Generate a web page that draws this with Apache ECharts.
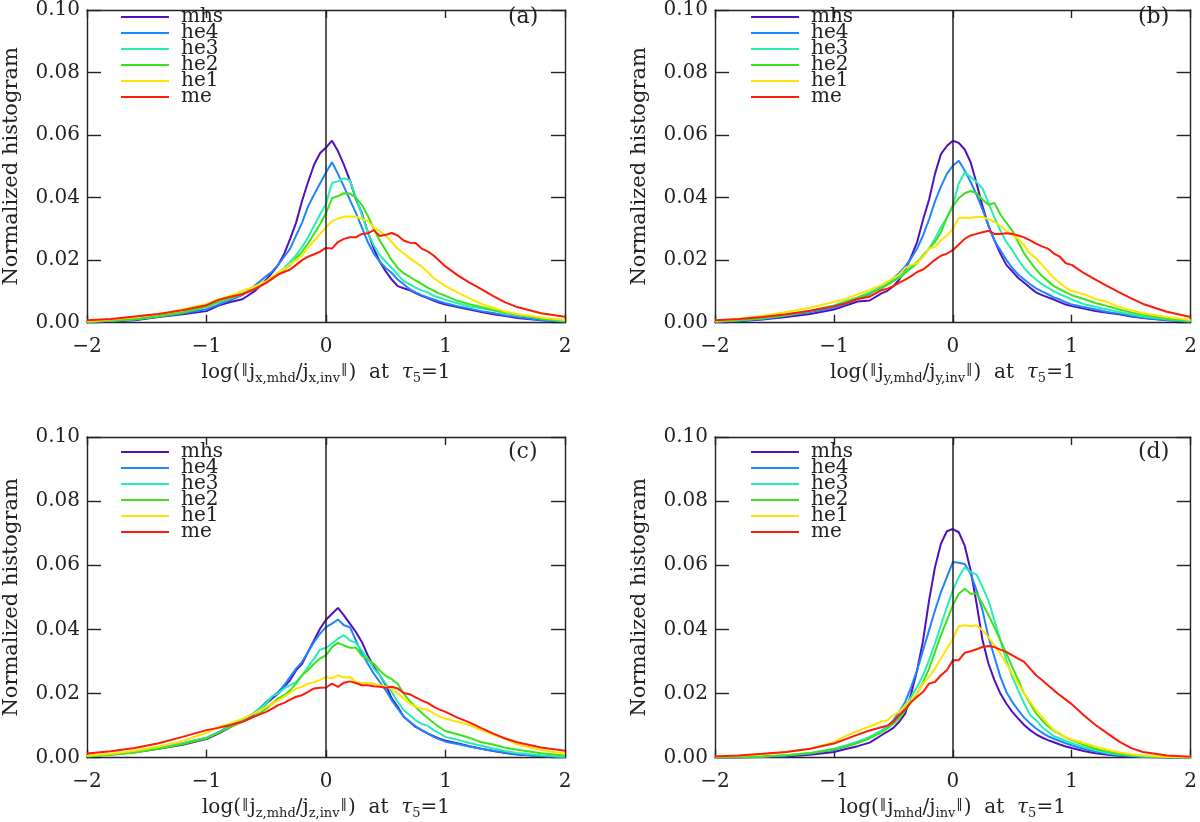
<!DOCTYPE html>
<html>
<head>
<meta charset="utf-8">
<script src="https://cdn.jsdelivr.net/npm/echarts@6/dist/echarts.min.js"></script>
<style>
html,body{margin:0;padding:0;background:#fff;}
#chart{width:1200px;height:822px;}
</style>
</head>
<body>
<div id="chart"></div>
<script>
// histogram bin centres shared by every curve
var xs = [-2,-1.8,-1.6,-1.4,-1.2,-1,-0.9,-0.8,-0.7,
  -0.6,-0.55,-0.5,-0.45,-0.4,-0.35,-0.3,-0.25,-0.2,-0.15,-0.1,-0.05,
  0,
  0.05,0.1,0.15,0.2,0.25,0.3,0.35,0.4,0.45,0.5,0.55,0.6,0.65,0.7,0.75,0.8,0.85,0.9,0.95,1,
  1.1,1.2,1.3,1.4,1.5,1.6,1.8,2];

var names = ['mhs','he4','he3','he2','he1','me'];
var colors = ['#5010c0','#1f84ff','#24eeb4','#3ee21c','#ffe400','#ff1a0a'];
var tags = ['(a)','(b)','(c)','(d)'];

// panel (a): j_x
var aMhs = [0.0002,0.0004,0.0008,0.0018,0.0027,0.0037,0.0055,0.0066,0.0075,
  0.0100,0.0118,0.0138,0.0160,0.0185,0.0220,0.0268,0.0320,0.0390,0.0450,0.0505,0.0542,
  0.0560,
  0.0582,0.0549,0.0505,0.0455,0.0395,0.0350,0.0290,0.0237,0.0195,0.0164,0.0138,0.0117,0.0110,0.0104,0.0095,0.0086,0.0079,0.0071,0.0064,0.0058,
  0.0050,0.0042,0.0034,0.0027,0.0021,0.0015,0.0008,0.0003];
var aHe4 = [0.0003,0.0006,0.0010,0.0020,0.0030,0.0043,0.0058,0.0072,0.0088,
  0.0117,0.0133,0.0149,0.0164,0.0185,0.0211,0.0237,0.0279,0.0320,0.0372,0.0409,0.0445,
  0.0480,
  0.0513,0.0476,0.0435,0.0393,0.0351,0.0305,0.0258,0.0221,0.0195,0.0175,0.0159,0.0138,0.0123,0.0107,0.0097,0.0088,0.0081,0.0074,0.0068,0.0062,
  0.0053,0.0045,0.0037,0.0031,0.0024,0.0018,0.0009,0.0004];
var aHe3 = [0.0003,0.0006,0.0011,0.0021,0.0033,0.0053,0.0068,0.0081,0.0094,
  0.0110,0.0120,0.0130,0.0143,0.0159,0.0175,0.0195,0.0216,0.0242,0.0273,0.0310,0.0346,
  0.0380,
  0.0447,0.0452,0.0462,0.0455,0.0400,0.0346,0.0289,0.0247,0.0216,0.0195,0.0175,0.0154,0.0133,0.0123,0.0112,0.0104,0.0097,0.0086,0.0080,0.0073,
  0.0062,0.0052,0.0046,0.0040,0.0032,0.0025,0.0013,0.0005];
var aHe2 = [0.0003,0.0006,0.0011,0.0020,0.0032,0.0051,0.0066,0.0078,0.0091,
  0.0107,0.0117,0.0128,0.0140,0.0154,0.0170,0.0185,0.0206,0.0227,0.0253,0.0284,0.0315,
  0.0350,
  0.0398,0.0405,0.0414,0.0413,0.0400,0.0377,0.0342,0.0300,0.0262,0.0232,0.0200,0.0175,0.0158,0.0147,0.0135,0.0124,0.0112,0.0103,0.0093,0.0086,
  0.0070,0.0059,0.0050,0.0040,0.0032,0.0025,0.0013,0.0006];
var aHe1 = [0.0005,0.0010,0.0018,0.0028,0.0042,0.0060,0.0074,0.0086,0.0102,
  0.0115,0.0124,0.0133,0.0147,0.0160,0.0172,0.0187,0.0200,0.0215,0.0240,0.0262,0.0284,
  0.0305,
  0.0325,0.0333,0.0339,0.0340,0.0339,0.0332,0.0325,0.0305,0.0292,0.0279,0.0258,0.0237,0.0222,0.0206,0.0193,0.0180,0.0162,0.0143,0.0130,0.0117,
  0.0097,0.0078,0.0060,0.0048,0.0036,0.0028,0.0017,0.0009];
var aMe = [0.0008,0.0012,0.0020,0.0028,0.0040,0.0056,0.0073,0.0083,0.0091,
  0.0107,0.0117,0.0128,0.0141,0.0154,0.0162,0.0170,0.0185,0.0200,0.0211,0.0219,0.0227,
  0.0239,
  0.0237,0.0258,0.0268,0.0273,0.0273,0.0284,0.0286,0.0296,0.0277,0.0281,0.0287,0.0279,0.0263,0.0256,0.0255,0.0237,0.0228,0.0215,0.0197,0.0180,
  0.0152,0.0128,0.0107,0.0085,0.0065,0.0050,0.0030,0.0019];

// panel (b): j_y
var bMhs = [0.0002,0.0005,0.0010,0.0018,0.0028,0.0042,0.0055,0.0068,0.0071,
  0.0094,0.0102,0.0117,0.0138,0.0170,0.0211,0.0258,0.0330,0.0393,0.0476,0.0539,0.0565,
  0.0582,
  0.0575,0.0554,0.0513,0.0445,0.0372,0.0310,0.0263,0.0221,0.0185,0.0164,0.0143,0.0128,0.0112,0.0097,0.0088,0.0081,0.0074,0.0066,0.0058,0.0053,
  0.0045,0.0037,0.0032,0.0027,0.0020,0.0015,0.0008,0.0003];
var bHe4 = [0.0003,0.0006,0.0012,0.0022,0.0033,0.0048,0.0060,0.0076,0.0091,
  0.0117,0.0128,0.0143,0.0159,0.0180,0.0206,0.0237,0.0279,0.0330,0.0388,0.0435,0.0476,
  0.0502,
  0.0518,0.0487,0.0450,0.0409,0.0362,0.0310,0.0263,0.0232,0.0201,0.0175,0.0154,0.0138,0.0123,0.0110,0.0100,0.0091,0.0081,0.0074,0.0066,0.0058,
  0.0050,0.0042,0.0034,0.0029,0.0022,0.0016,0.0009,0.0004];
var bHe3 = [0.0004,0.0008,0.0014,0.0025,0.0038,0.0055,0.0069,0.0081,0.0097,
  0.0114,0.0125,0.0136,0.0149,0.0164,0.0180,0.0195,0.0211,0.0237,0.0268,0.0305,0.0336,
  0.0377,
  0.0445,0.0481,0.0466,0.0450,0.0429,0.0383,0.0336,0.0294,0.0258,0.0232,0.0201,0.0175,0.0154,0.0138,0.0123,0.0112,0.0100,0.0091,0.0083,0.0074,
  0.0060,0.0050,0.0042,0.0034,0.0027,0.0020,0.0011,0.0005];
var bHe2 = [0.0004,0.0008,0.0014,0.0024,0.0037,0.0053,0.0066,0.0079,0.0094,
  0.0110,0.0121,0.0133,0.0143,0.0159,0.0175,0.0190,0.0216,0.0237,0.0258,0.0289,0.0336,
  0.0372,
  0.0398,0.0414,0.0421,0.0414,0.0393,0.0377,0.0383,0.0346,0.0320,0.0294,0.0258,0.0221,0.0195,0.0170,0.0149,0.0133,0.0117,0.0107,0.0097,0.0088,
  0.0076,0.0063,0.0053,0.0042,0.0033,0.0025,0.0013,0.0006];
var bHe1 = [0.0006,0.0012,0.0022,0.0034,0.0048,0.0066,0.0076,0.0091,0.0105,
  0.0120,0.0131,0.0143,0.0154,0.0175,0.0185,0.0190,0.0211,0.0237,0.0242,0.0263,0.0279,
  0.0300,
  0.0336,0.0336,0.0336,0.0338,0.0338,0.0331,0.0322,0.0310,0.0294,0.0281,0.0268,0.0247,0.0221,0.0206,0.0185,0.0164,0.0143,0.0128,0.0112,0.0102,
  0.0091,0.0076,0.0066,0.0050,0.0040,0.0030,0.0018,0.0009];
var bMe = [0.0008,0.0012,0.0018,0.0027,0.0038,0.0053,0.0062,0.0076,0.0083,
  0.0104,0.0109,0.0117,0.0128,0.0138,0.0149,0.0162,0.0170,0.0185,0.0201,0.0214,0.0221,
  0.0232,
  0.0250,0.0268,0.0279,0.0284,0.0289,0.0294,0.0284,0.0284,0.0286,0.0284,0.0279,0.0273,0.0263,0.0253,0.0244,0.0237,0.0221,0.0211,0.0190,0.0185,
  0.0159,0.0138,0.0117,0.0097,0.0078,0.0060,0.0035,0.0018];

// panel (c): j_z
var cMhs = [0.0005,0.0010,0.0017,0.0028,0.0040,0.0058,0.0075,0.0095,0.0115,
  0.0136,0.0151,0.0169,0.0185,0.0200,0.0221,0.0242,0.0273,0.0293,0.0330,0.0366,0.0402,
  0.0430,
  0.0449,0.0467,0.0444,0.0418,0.0392,0.0361,0.0319,0.0283,0.0257,0.0226,0.0185,0.0159,0.0128,0.0112,0.0096,0.0086,0.0076,0.0067,0.0059,0.0053,
  0.0045,0.0036,0.0028,0.0021,0.0015,0.0010,0.0005,0.0002];
var cHe4 = [0.0005,0.0010,0.0018,0.0030,0.0045,0.0062,0.0080,0.0100,0.0118,
  0.0140,0.0156,0.0174,0.0190,0.0205,0.0226,0.0252,0.0278,0.0299,0.0330,0.0361,0.0387,
  0.0407,
  0.0418,0.0431,0.0413,0.0407,0.0366,0.0325,0.0293,0.0262,0.0236,0.0210,0.0179,0.0153,0.0128,0.0112,0.0098,0.0086,0.0076,0.0065,0.0057,0.0050,
  0.0043,0.0035,0.0028,0.0022,0.0016,0.0011,0.0005,0.0002];
var cHe3 = [0.0005,0.0010,0.0018,0.0030,0.0045,0.0062,0.0078,0.0098,0.0118,
  0.0140,0.0153,0.0169,0.0192,0.0200,0.0216,0.0226,0.0236,0.0257,0.0283,0.0309,0.0337,
  0.0343,
  0.0356,0.0371,0.0382,0.0366,0.0358,0.0335,0.0309,0.0278,0.0257,0.0231,0.0205,0.0174,0.0148,0.0133,0.0117,0.0105,0.0100,0.0086,0.0076,0.0065,
  0.0056,0.0046,0.0037,0.0029,0.0021,0.0015,0.0008,0.0003];
var cHe2 = [0.0004,0.0009,0.0016,0.0028,0.0043,0.0060,0.0078,0.0096,0.0112,
  0.0128,0.0140,0.0153,0.0169,0.0185,0.0195,0.0210,0.0231,0.0257,0.0273,0.0293,0.0309,
  0.0319,
  0.0345,0.0358,0.0350,0.0343,0.0343,0.0318,0.0305,0.0293,0.0272,0.0255,0.0245,0.0230,0.0200,0.0177,0.0158,0.0140,0.0124,0.0109,0.0095,0.0083,
  0.0073,0.0062,0.0048,0.0041,0.0031,0.0025,0.0014,0.0007];
var cHe1 = [0.0006,0.0012,0.0022,0.0035,0.0052,0.0078,0.0096,0.0107,0.0122,
  0.0138,0.0148,0.0159,0.0169,0.0179,0.0190,0.0202,0.0216,0.0221,0.0231,0.0236,0.0242,
  0.0252,
  0.0247,0.0257,0.0250,0.0252,0.0236,0.0233,0.0233,0.0231,0.0226,0.0221,0.0216,0.0200,0.0185,0.0169,0.0159,0.0153,0.0150,0.0138,0.0128,0.0122,
  0.0112,0.0102,0.0086,0.0072,0.0058,0.0042,0.0024,0.0012];
var cMe = [0.0013,0.0020,0.0030,0.0045,0.0065,0.0086,0.0093,0.0102,0.0112,
  0.0128,0.0136,0.0143,0.0153,0.0164,0.0171,0.0181,0.0190,0.0195,0.0205,0.0216,0.0218,
  0.0219,
  0.0231,0.0221,0.0234,0.0238,0.0233,0.0226,0.0226,0.0223,0.0221,0.0218,0.0221,0.0216,0.0202,0.0198,0.0188,0.0179,0.0171,0.0159,0.0150,0.0143,
  0.0125,0.0110,0.0092,0.0075,0.0060,0.0048,0.0032,0.0022];

// panel (d): |j|
var dMhs = [0.0000,0.0001,0.0002,0.0004,0.0009,0.0018,0.0027,0.0036,0.0047,
  0.0070,0.0081,0.0093,0.0112,0.0138,0.0200,0.0273,0.0366,0.0490,0.0594,0.0667,0.0706,
  0.0713,
  0.0703,0.0661,0.0584,0.0480,0.0366,0.0293,0.0242,0.0200,0.0169,0.0143,0.0122,0.0102,0.0086,0.0073,0.0063,0.0055,0.0048,0.0041,0.0035,0.0030,
  0.0021,0.0014,0.0009,0.0006,0.0004,0.0002,0.0001,0.0000];
var dHe4 = [0.0001,0.0002,0.0004,0.0007,0.0013,0.0025,0.0035,0.0047,0.0063,
  0.0084,0.0098,0.0117,0.0143,0.0174,0.0221,0.0273,0.0335,0.0397,0.0459,0.0516,0.0563,
  0.0610,
  0.0608,0.0604,0.0573,0.0522,0.0459,0.0376,0.0314,0.0252,0.0205,0.0174,0.0148,0.0125,0.0107,0.0091,0.0078,0.0067,0.0059,0.0052,0.0045,0.0039,
  0.0028,0.0019,0.0012,0.0008,0.0005,0.0003,0.0001,0.0000];
var dHe3 = [0.0001,0.0002,0.0004,0.0008,0.0015,0.0028,0.0038,0.0050,0.0065,
  0.0084,0.0096,0.0112,0.0133,0.0159,0.0190,0.0221,0.0257,0.0304,0.0356,0.0413,0.0470,
  0.0522,
  0.0563,0.0594,0.0579,0.0571,0.0532,0.0490,0.0428,0.0366,0.0304,0.0252,0.0210,0.0169,0.0133,0.0117,0.0096,0.0081,0.0067,0.0060,0.0052,0.0045,
  0.0033,0.0023,0.0015,0.0010,0.0006,0.0004,0.0002,0.0001];
var dHe2 = [0.0001,0.0002,0.0004,0.0008,0.0014,0.0026,0.0035,0.0046,0.0060,
  0.0079,0.0091,0.0105,0.0122,0.0148,0.0174,0.0200,0.0236,0.0278,0.0330,0.0382,0.0428,
  0.0475,
  0.0511,0.0527,0.0511,0.0511,0.0480,0.0444,0.0407,0.0366,0.0325,0.0283,0.0242,0.0200,0.0169,0.0138,0.0117,0.0098,0.0084,0.0074,0.0063,0.0055,
  0.0040,0.0028,0.0019,0.0012,0.0008,0.0005,0.0002,0.0001];
var dHe1 = [0.0003,0.0006,0.0010,0.0018,0.0028,0.0048,0.0068,0.0083,0.0098,
  0.0112,0.0117,0.0133,0.0143,0.0164,0.0179,0.0202,0.0231,0.0252,0.0278,0.0309,0.0340,
  0.0371,
  0.0410,0.0413,0.0410,0.0413,0.0397,0.0376,0.0350,0.0325,0.0293,0.0262,0.0231,0.0200,0.0174,0.0148,0.0128,0.0105,0.0086,0.0076,0.0063,0.0057,
  0.0046,0.0035,0.0025,0.0017,0.0011,0.0007,0.0003,0.0001];
var dMe = [0.0004,0.0007,0.0012,0.0018,0.0028,0.0044,0.0058,0.0072,0.0085,
  0.0095,0.0100,0.0112,0.0133,0.0150,0.0174,0.0190,0.0205,0.0231,0.0236,0.0257,0.0273,
  0.0304,
  0.0304,0.0327,0.0332,0.0338,0.0345,0.0348,0.0345,0.0337,0.0330,0.0319,0.0309,0.0299,0.0278,0.0257,0.0242,0.0226,0.0210,0.0195,0.0181,0.0167,
  0.0133,0.0102,0.0076,0.0050,0.0030,0.0018,0.0007,0.0003];

var panelData = [
  [aMhs,aHe4,aHe3,aHe2,aHe1,aMe],
  [bMhs,bHe4,bHe3,bHe2,bHe1,bMe],
  [cMhs,cHe4,cHe3,cHe2,cHe1,cMe],
  [dMhs,dHe4,dHe3,dHe2,dHe1,dMe]
];
// subscripts of the x titles
var subs = [['x,mhd','x,inv'],['y,mhd','y,inv'],['z,mhd','z,inv'],['mhd','inv']];

var FONT = 'DejaVu Serif';
var INK = '#222';
// plot boxes: left, top
var boxes = [[85,2],[715,2],[85,437],[715,437]];
var BOX_W = 480, BOX_H = 320.7;

var chart = echarts.init(document.getElementById('chart'));

function pairs(arr){
  var out=[];
  for(var i=0;i<xs.length;i++){
    out.push([xs[i],arr[i]]);
  }
  return out;
}

function xName(k){
  return 'log({bar|\u2016}j{sub|'+subs[k][0]+'}/j{sub|'+subs[k][1]+'}{bar|\u2016})  at  {tau|\u03c4}{sub|5}=1';
}

var axisLine={show:true,onZero:false,lineStyle:{color:INK,width:1.4}};
var tickStyle={color:INK,width:1.4};

var option={
  animation:false,
  backgroundColor:'#ffffff',
  title:[],
  legend:[],
  grid:[],
  xAxis:[],
  yAxis:[],
  series:[]
};

for(var k=0;k<4;k++){
  var bx=boxes[k][0], by=boxes[k][1];
  option.grid.push({left:bx,top:by,width:BOX_W,height:BOX_H});

  // bottom x axis with labels and title
  option.xAxis.push({
    type:'value',gridIndex:k,min:-2,max:2,interval:1,position:'bottom',
    axisLine:axisLine,
    axisTick:{show:true,inside:true,length:8,lineStyle:tickStyle},
    splitLine:{show:false},
    axisLabel:{margin:14,color:INK,fontFamily:FONT,fontSize:20,
      formatter:function(v){ return v<0 ? '\u2212'+Math.abs(v) : String(v); }},
    name:xName(k),nameLocation:'middle',nameGap:37,
    nameTextStyle:{color:INK,fontFamily:FONT,fontSize:20,lineHeight:26,
      rich:{
        sub:{fontFamily:FONT,fontSize:13,lineHeight:13,color:INK,padding:[12,0,0,0]},
        bar:{fontFamily:FONT,fontSize:13,lineHeight:13,color:INK,padding:[0,1,6,1]},
        tau:{fontFamily:FONT,fontSize:20,fontStyle:'italic',lineHeight:26,color:INK}
      }}
  });
  // top x axis, ticks only
  option.xAxis.push({
    type:'value',gridIndex:k,min:-2,max:2,interval:1,position:'top',
    axisLine:axisLine,
    axisTick:{show:true,inside:true,length:8,lineStyle:tickStyle},
    splitLine:{show:false},axisLabel:{show:false}
  });
  // left y axis
  option.yAxis.push({
    type:'value',gridIndex:k,min:0,max:0.1,interval:0.02,position:'left',
    axisLine:axisLine,
    axisTick:{show:true,inside:true,length:14,lineStyle:tickStyle},
    splitLine:{show:false},
    axisLabel:{margin:7,color:INK,fontFamily:FONT,fontSize:20,
      formatter:function(v){ return v.toFixed(2); }},
    name:'Normalized histogram',nameLocation:'middle',nameGap:65,nameRotate:90,
    nameTextStyle:{color:INK,fontFamily:FONT,fontSize:21}
  });
  // right y axis, ticks only
  option.yAxis.push({
    type:'value',gridIndex:k,min:0,max:0.1,interval:0.02,position:'right',
    axisLine:axisLine,
    axisTick:{show:true,inside:true,length:14,lineStyle:tickStyle},
    splitLine:{show:false},axisLabel:{show:false}
  });

  for(var i=0;i<names.length;i++){
    var s={
      type:'line',name:names[i],
      xAxisIndex:2*k,yAxisIndex:2*k,
      data:pairs(panelData[k][i]),
      showSymbol:false,symbol:'none',silent:true,
      lineStyle:{color:colors[i],width:2},
      itemStyle:{color:colors[i]}
    };
    if(i==0){
      // vertical reference line at log ratio = 0
      s.markLine={
        silent:true,symbol:['none','none'],label:{show:false},
        lineStyle:{color:INK,width:1.5,type:'solid'},
        data:[{xAxis:0}]
      };
    }
    option.series.push(s);
  }

  option.legend.push({
    orient:'vertical',left:bx+36,top:by+1,padding:0,
    icon:'rect',itemWidth:48,itemHeight:2,itemGap:-12,
    selectedMode:false,
    textStyle:{color:INK,fontFamily:FONT,fontSize:20,lineHeight:16,padding:[0,0,12,7]},
    data:names
  });

  option.title.push({
    text:tags[k],left:bx+423,top:by+4,padding:0,
    textStyle:{color:INK,fontFamily:FONT,fontSize:22,fontWeight:'normal'}
  });
}

chart.setOption(option);
</script>
</body>
</html>
